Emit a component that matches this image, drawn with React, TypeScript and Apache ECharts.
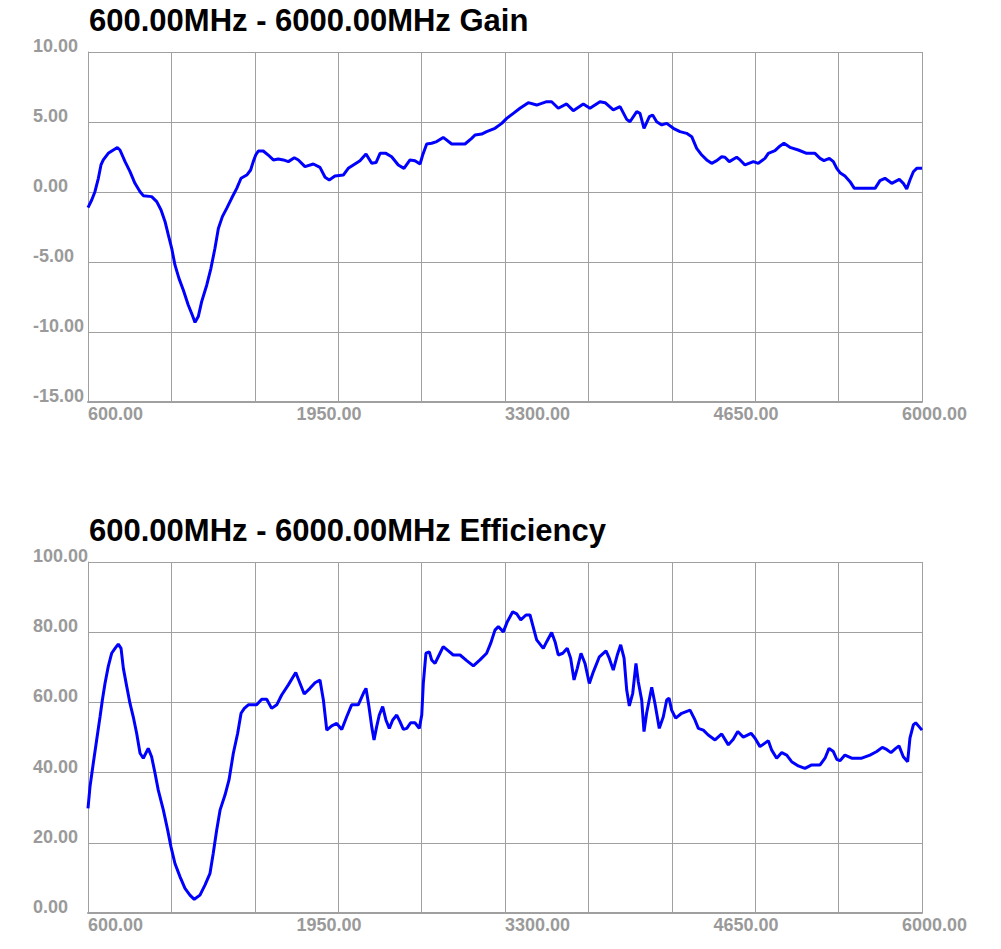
import React, { useEffect, useRef } from "react";
import * as echarts from "echarts";

const FREQ_MIN = 600;
const FREQ_MAX = 6000;

const gainTitle = "600.00MHz - 6000.00MHz Gain";
const effTitle = "600.00MHz - 6000.00MHz Efficiency";

const gainFreq = [
  600, 624, 645, 667, 684, 699, 731, 764, 790, 807,
  840, 872, 904, 937, 958, 1012, 1045, 1073, 1099, 1120,
  1142, 1163, 1189, 1217, 1249, 1275, 1293, 1314, 1336, 1369,
  1396, 1422, 1444, 1470, 1498, 1530, 1563, 1591, 1628, 1653,
  1670, 1686, 1703, 1735, 1767, 1800, 1832, 1865, 1897, 1936,
  1962, 2005, 2059, 2102, 2135, 2162, 2199, 2253, 2285, 2318,
  2361, 2400, 2437, 2465, 2491, 2529, 2566, 2609, 2646, 2685,
  2717, 2750, 2767, 2793, 2825, 2858, 2900, 2955, 3041, 3084,
  3106, 3149, 3181, 3235, 3279, 3311, 3354, 3397, 3451, 3505,
  3570, 3602, 3645, 3699, 3742, 3807, 3850, 3915, 3948, 4001,
  4045, 4088, 4109, 4153, 4174, 4200, 4235, 4256, 4282, 4315,
  4347, 4390, 4433, 4476, 4509, 4541, 4574, 4606, 4638, 4671,
  4703, 4724, 4752, 4800, 4822, 4854, 4908, 4940, 4983, 5005,
  5048, 5081, 5106, 5145, 5199, 5253, 5307, 5340, 5365, 5400,
  5426, 5448, 5469, 5501, 5534, 5562, 5620, 5696, 5728, 5760,
  5804, 5853, 5879, 5901, 5922, 5944, 5966, 6000,
];

const gainValues = [
  -1.12, -0.57, 0.02, 0.98, 1.93, 2.29, 2.76, 3.0, 3.17, 3.0,
  2.17, 1.45, 0.62, 0.02, -0.26, -0.33, -0.69, -1.29, -2.12, -3.07,
  -4.02, -5.21, -6.17, -7.0, -8.07, -8.79, -9.31, -8.9, -7.83, -6.64,
  -5.45, -4.02, -2.6, -1.76, -1.17, -0.45, 0.26, 0.98, 1.21, 1.57,
  2.17, 2.64, 2.93, 2.93, 2.64, 2.29, 2.36, 2.29, 2.17, 2.45,
  2.29, 1.81, 2.0, 1.76, 1.05, 0.86, 1.14, 1.21, 1.69, 1.93,
  2.24, 2.71, 2.05, 2.1, 2.76, 2.76, 2.52, 1.93, 1.69, 2.29,
  2.24, 2.0, 2.64, 3.43, 3.48, 3.6, 3.9, 3.43, 3.43, 3.83,
  4.07, 4.14, 4.31, 4.55, 4.9, 5.26, 5.62, 5.98, 6.38, 6.21,
  6.45, 6.45, 5.98, 6.29, 5.81, 6.29, 5.98, 6.45, 6.38, 5.86,
  6.1, 5.19, 5.02, 5.74, 5.62, 4.55, 5.38, 5.5, 5.02, 4.79,
  4.9, 4.55, 4.31, 4.19, 3.95, 3.12, 2.64, 2.29, 2.05, 2.24,
  2.52, 2.48, 2.17, 2.48, 2.29, 1.93, 2.17, 2.05, 2.4, 2.76,
  2.95, 3.29, 3.48, 3.19, 3.0, 2.76, 2.76, 2.4, 2.24, 2.4,
  2.17, 1.69, 1.38, 1.14, 0.74, 0.26, 0.26, 0.26, 0.81, 0.98,
  0.62, 0.9, 0.62, 0.21, 0.86, 1.45, 1.69, 1.69,
];

const effFreq = [
  600, 613, 634, 656, 678, 693, 710, 731, 753, 775,
  796, 814, 829, 851, 872, 893, 915, 937, 958, 990,
  1012, 1034, 1055, 1088, 1116, 1137, 1163, 1196, 1228, 1260,
  1288, 1325, 1358, 1390, 1411, 1433, 1455, 1487, 1513, 1541,
  1569, 1591, 1612, 1638, 1692, 1725, 1757, 1789, 1822, 1854,
  1897, 1945, 1973, 2000, 2037, 2070, 2102, 2124, 2146, 2178,
  2210, 2243, 2275, 2307, 2350, 2383, 2400, 2419, 2437, 2452,
  2469, 2486, 2508, 2529, 2551, 2573, 2599, 2620, 2642, 2664,
  2689, 2717, 2745, 2761, 2771, 2788, 2810, 2825, 2847, 2879,
  2900, 2933, 2965, 3009, 3052, 3095, 3138, 3181, 3207, 3235,
  3257, 3289, 3315, 3350, 3376, 3402, 3436, 3462, 3488, 3505,
  3548, 3570, 3602, 3624, 3645, 3674, 3703, 3725, 3747, 3768,
  3792, 3818, 3846, 3872, 3911, 3954, 3975, 4001, 4027, 4049,
  4071, 4088, 4105, 4127, 4148, 4163, 4185, 4200, 4217, 4250,
  4271, 4299, 4325, 4347, 4362, 4379, 4405, 4444, 4498, 4530,
  4552, 4584, 4616, 4660, 4703, 4746, 4778, 4807, 4843, 4893,
  4919, 4951, 4983, 5005, 5027, 5059, 5092, 5124, 5156, 5199,
  5242, 5286, 5340, 5372, 5398, 5426, 5448, 5469, 5501, 5545,
  5610, 5663, 5707, 5743, 5771, 5799, 5830, 5851, 5879, 5907,
  5922, 5944, 5959, 5981, 6000,
];

const effValues = [
  29.8, 36.0, 42.6, 49.3, 55.9, 60.7, 65.4, 70.2, 74.0, 75.4,
  76.6, 75.4, 69.7, 64.5, 59.7, 55.9, 51.2, 45.5, 44.1, 46.9,
  44.5, 39.8, 35.0, 29.3, 23.6, 18.9, 14.1, 10.3, 7.0, 5.1,
  3.9, 5.1, 8.0, 11.3, 17.0, 23.6, 29.3, 33.6, 37.9, 45.5,
  51.2, 56.9, 58.3, 59.3, 59.3, 60.9, 60.9, 58.3, 59.3, 62.1,
  65.0, 68.5, 65.4, 62.4, 64.0, 65.6, 66.4, 60.7, 52.1, 53.3,
  54.0, 52.3, 55.9, 59.3, 59.3, 62.6, 64.0, 58.8, 53.1, 49.3,
  53.1, 56.4, 58.8, 55.0, 52.6, 55.0, 56.4, 54.5, 52.3, 52.6,
  54.2, 54.2, 52.6, 56.4, 65.4, 74.0, 74.4, 72.1, 71.1, 74.0,
  75.9, 74.7, 73.5, 73.5, 71.9, 70.4, 72.1, 74.0, 76.8, 80.6,
  81.6, 80.1, 83.0, 85.8, 85.2, 83.5, 84.9, 84.9, 80.6, 77.8,
  75.4, 77.3, 79.9, 77.3, 73.5, 74.0, 75.4, 72.6, 66.4, 69.7,
  74.0, 71.1, 65.4, 68.7, 73.0, 74.7, 72.6, 69.2, 73.5, 76.4,
  72.6, 63.5, 59.0, 62.6, 71.1, 65.9, 60.7, 51.7, 56.9, 64.3,
  59.7, 52.6, 55.9, 60.7, 61.2, 57.8, 55.5, 56.9, 57.8, 55.0,
  52.6, 52.1, 50.7, 49.3, 51.0, 47.9, 49.5, 51.7, 50.1, 51.2,
  49.8, 47.4, 48.4, 49.1, 46.4, 44.1, 45.7, 45.0, 43.1, 41.9,
  41.2, 42.2, 42.2, 44.1, 46.9, 46.0, 43.8, 43.4, 45.0, 44.1,
  44.1, 45.0, 46.0, 47.2, 46.6, 45.7, 46.9, 47.6, 44.5, 43.1,
  49.8, 53.6, 54.2, 53.1, 52.1,
];

const gainAxis = { min: -15, max: 10, step: 5 };
const effAxis = { min: 0, max: 100, step: 20 };
const gridStepMHz = 540;
const labelStepMHz = 1350;

const FONT = "'Liberation Sans', Arial, Helvetica, sans-serif";
const GRID_COLOR = "#a0a0a0";
const LABEL_COLOR = "#9a9a9a";
const LINE_COLOR = "#0000ff";

function toPairs(f: number[], v: number[]) {
  return f.map((x, i) => [x - FREQ_MIN, v[i]]);
}

function xAxes(gridIndex: number) {
  const span = FREQ_MAX - FREQ_MIN;
  return [
    {
      type: "value",
      gridIndex,
      min: 0,
      max: span,
      interval: gridStepMHz,
      axisLine: { show: true, onZero: false, lineStyle: { color: GRID_COLOR, width: 2 } },
      axisTick: { show: false },
      axisLabel: { show: false },
      splitLine: { show: true, lineStyle: { color: GRID_COLOR, width: 1 } },
    },
    {
      type: "value",
      gridIndex,
      min: 0,
      max: span,
      interval: labelStepMHz,
      position: "bottom",
      axisLine: { show: false, onZero: false },
      axisTick: { show: false },
      splitLine: { show: false },
      axisLabel: {
        show: true,
        align: "left",
        alignMaxLabel: "center",
        verticalAlign: "top",
        margin: 6,
        formatter: (v: number) => {
          const s = (v + FREQ_MIN).toFixed(2);
          return v >= span ? `{gap|\u00a0}{t|${s}}` : `{t|${s}}`;
        },
        rich: {
          t: {
            fontSize: 18,
            fontWeight: "bold",
            fontFamily: FONT,
            color: LABEL_COLOR,
            lineHeight: 12,
          },
          gap: { width: 25, fontSize: 18, fontFamily: FONT, lineHeight: 12 },
        },
      },
    },
  ];
}

function yAxis(gridIndex: number, ax: { min: number; max: number; step: number }) {
  return {
    type: "value",
    gridIndex,
    min: ax.min,
    max: ax.max,
    interval: ax.step,
    axisLine: { show: true, onZero: false, lineStyle: { color: GRID_COLOR, width: 1 } },
    axisTick: { show: false },
    splitLine: { show: true, lineStyle: { color: GRID_COLOR, width: 1 } },
    axisLabel: {
      show: true,
      align: "left",
      verticalAlign: "bottom",
      margin: 55,
      lineHeight: 12,
      fontSize: 18,
      fontWeight: "bold",
      fontFamily: FONT,
      color: LABEL_COLOR,
      formatter: (v: number) => v.toFixed(2),
    },
  };
}

export default function App() {
  const ref = useRef<HTMLDivElement>(null);

  useEffect(() => {
    if (!ref.current) return;
    const chart = echarts.init(ref.current, null, { renderer: "svg" });
    const titleStyle = {
      fontSize: 31,
      fontWeight: "bold",
      color: "#000000",
      fontFamily: FONT,
      lineHeight: 30,
    };
    chart.setOption({
      animation: false,
      backgroundColor: "#ffffff",
      title: [
        { text: gainTitle, left: 89, top: 5, padding: 0, textStyle: titleStyle },
        { text: effTitle, left: 89, top: 515, padding: 0, textStyle: titleStyle },
      ],
      grid: [
        { left: 88, top: 52, width: 834, height: 350, containLabel: false },
        { left: 88, top: 562, width: 834, height: 351, containLabel: false },
      ],
      xAxis: [...xAxes(0), ...xAxes(1)],
      yAxis: [yAxis(0, gainAxis), yAxis(1, effAxis)],
      series: [
        {
          type: "line",
          xAxisIndex: 0,
          yAxisIndex: 0,
          data: toPairs(gainFreq, gainValues),
          symbol: "none",
          showSymbol: false,
          smooth: false,
          silent: true,
          lineStyle: { color: LINE_COLOR, width: 3 },
        },
        {
          type: "line",
          xAxisIndex: 2,
          yAxisIndex: 1,
          data: toPairs(effFreq, effValues),
          symbol: "none",
          showSymbol: false,
          smooth: false,
          silent: true,
          lineStyle: { color: LINE_COLOR, width: 3 },
        },
      ],
    });
    return () => chart.dispose();
  }, []);

  return (
    <div
      ref={ref}
      style={{ position: "fixed", left: 0, top: 0, width: 1001, height: 949, background: "#fff" }}
    />
  );
}
